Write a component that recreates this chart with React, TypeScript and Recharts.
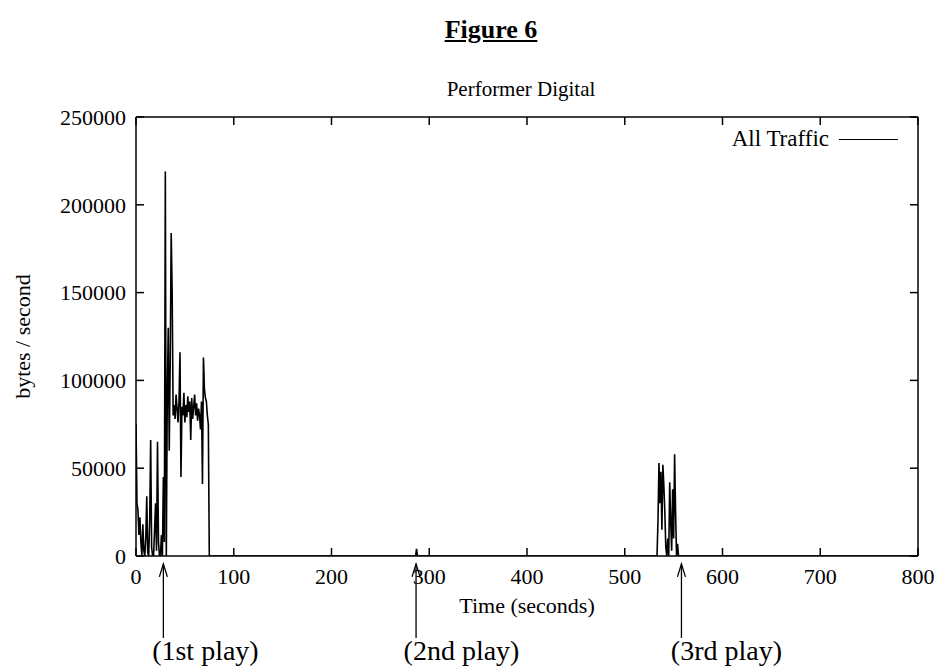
import React from 'react';
import { LineChart, Line, XAxis, YAxis, Legend, ReferenceDot } from 'recharts';

// ---- data (seconds, bytes/second) ----
const times = [
  0, 1, 2, 3, 4, 5, 6, 7, 8, 9,
  10, 11, 12, 13, 14, 15, 16, 17, 18, 19,
  20, 21, 22, 23, 24, 25, 26, 27, 28, 29,
  30, 31, 32, 33, 34, 35, 36, 37, 38, 39,
  40, 41, 42, 43, 44, 45, 46, 47, 48, 49,
  50, 51, 52, 53, 54, 55, 56, 57, 58, 59,
  60, 61, 62, 63, 64, 65, 66, 67, 68, 69,
  70, 71, 72, 73, 74, 75, 76,
  286, 287, 288,
  533, 534, 535, 536, 537, 538, 539, 540, 541, 542,
  543, 544, 545, 546, 547, 548, 549, 550, 551, 552,
  553, 554, 555, 800,
];
const traffic = [
  75000, 30000, 26000, 12000, 22000, 8000, 0, 18000, 3000, 0,
  10000, 34000, 2000, 0, 20000, 66000, 5000, 0, 0, 15000,
  30000, 3000, 65000, 8000, 0, 0, 12000, 0, 45000, 8000,
  219000, 0, 90000, 130000, 60000, 110000, 184000, 150000, 80000, 86000,
  78000, 92000, 84000, 76000, 88000, 116000, 45000, 85000, 80000, 93000,
  76000, 86000, 79000, 91000, 82000, 88000, 66000, 90000, 78000, 85000,
  92000, 80000, 87000, 77000, 84000, 80000, 72000, 88000, 41000, 113000,
  95000, 90000, 88000, 80000, 75000, 0, 0,
  0, 4000, 0,
  0, 20000, 53000, 30000, 48000, 15000, 52000, 40000, 25000, 5000,
  0, 10000, 0, 42000, 20000, 3000, 38000, 10000, 58000, 25000,
  0, 7000, 0, 0,
];
const xTicks = [0, 100, 200, 300, 400, 500, 600, 700, 800];
const yTicks = [0, 50000, 100000, 150000, 200000, 250000];
const playMarks = [28, 286.5, 558];
const playLabels = ['(1st play)', '(2nd play)', '(3rd play)'];
const playLabelX = [71, 333, 604];

const data = times.map((t, i) => ({ t, v: traffic[i] }));

const FONT = '"Liberation Serif", "Times New Roman", serif';
const tickStyle = { fill: '#000', fontSize: 22, fontFamily: FONT };

const Arrow = (p: any) => (
  <g>
    <line x1={p.cx} y1={p.cy} x2={p.cx} y2={p.cy + 74} stroke="#000" strokeWidth={1.3} />
    <path d={`M${p.cx - 4},${p.cy + 13} L${p.cx},${p.cy} L${p.cx + 4},${p.cy + 13}`} fill="none" stroke="#000" strokeWidth={1.3} />
  </g>
);

const makeLabel = (text: string) => (p: any) => (
  <text x={p.cx} y={p.cy} textAnchor="middle" dominantBaseline="central" fontSize={28} fontFamily={FONT} fill="#000">
    {text}
  </text>
);

export default function App() {
  return (
    <div style={{ position: 'absolute', left: 0, top: 0, width: 944, height: 666, background: '#fff', fontFamily: FONT }}>
      <div style={{ position: 'absolute', left: 391, width: 200, top: 15, textAlign: 'center', fontSize: 26, fontWeight: 'bold', textDecoration: 'underline', color: '#000' }}>
        Figure 6
      </div>
      <div style={{ position: 'absolute', left: 371, width: 300, top: 77, textAlign: 'center', fontSize: 21, color: '#000' }}>
        Performer Digital
      </div>
      <LineChart width={944} height={666} data={data} margin={{ top: 116, right: 25, bottom: 0, left: 0 }}>
        <XAxis
          dataKey="t"
          type="number"
          domain={[0, 800]}
          ticks={xTicks}
          allowDataOverflow
          height={110}
          tickSize={-8}
          tickMargin={20}
          tick={tickStyle}
          stroke="#000"
          strokeWidth={1.5}
          label={{
            content: (props: any) => {
              const vb = props.viewBox;
              return (
                <text x={vb.x + vb.width / 2} y={vb.y + 49} textAnchor="middle" dominantBaseline="central" fontSize={22} fontFamily={FONT} fill="#000">
                  Time (seconds)
                </text>
              );
            },
          }}
        />
        <XAxis
          xAxisId="top"
          dataKey="t"
          orientation="top"
          type="number"
          domain={[0, 800]}
          ticks={xTicks}
          allowDataOverflow
          height={1}
          tickSize={-8}
          tickFormatter={() => ''}
          stroke="#000"
          strokeWidth={1.5}
        />
        <YAxis
          type="number"
          domain={[0, 250000]}
          ticks={yTicks}
          allowDataOverflow
          width={136}
          tickSize={-8}
          tickMargin={18}
          tick={tickStyle}
          stroke="#000"
          strokeWidth={1.5}
          label={{
            content: (props: any) => {
              const vb = props.viewBox;
              const cx = vb.x + 22;
              const cy = vb.y + vb.height / 2;
              return (
                <text x={cx} y={cy} transform={`rotate(-90 ${cx} ${cy})`} textAnchor="middle" dominantBaseline="central" fontSize={22} fontFamily={FONT} fill="#000">
                  bytes / second
                </text>
              );
            },
          }}
        />
        <YAxis
          yAxisId="right"
          orientation="right"
          type="number"
          domain={[0, 250000]}
          ticks={yTicks}
          allowDataOverflow
          width={1}
          tickSize={-8}
          tickFormatter={() => ''}
          stroke="#000"
          strokeWidth={1.5}
        />
        <Legend
          layout="vertical"
          align="center"
          verticalAlign="middle"
          wrapperStyle={{ left: 660, top: 124, width: 238, height: 30 }}
          content={() => (
            <div style={{ display: 'flex', alignItems: 'center', justifyContent: 'flex-end', fontSize: 23, fontFamily: FONT, color: '#000', height: 30 }}>
              <span>All Traffic</span>
              <span style={{ display: 'inline-block', width: 59, borderTop: '1.5px solid #000', marginLeft: 10 }} />
            </div>
          )}
        />
        <Line
          xAxisId="top"
          yAxisId="right"
          type="linear"
          dataKey="v"
          stroke="none"
          strokeWidth={0}
          dot={false}
          activeDot={false}
          legendType="none"
          isAnimationActive={false}
        />
        <Line
          type="linear"
          dataKey="v"
          stroke="#000"
          strokeWidth={1.6}
          dot={false}
          isAnimationActive={false}
          name="All Traffic"
        />
        {playMarks.map((m, i) => (
          <ReferenceDot key={'a' + i} x={m} y={-4500} r={0} ifOverflow="visible" shape={Arrow} />
        ))}
        {playLabels.map((l, i) => (
          <ReferenceDot key={'l' + i} x={playLabelX[i]} y={-54000} r={0} ifOverflow="visible" shape={makeLabel(l)} />
        ))}
      </LineChart>
    </div>
  );
}
